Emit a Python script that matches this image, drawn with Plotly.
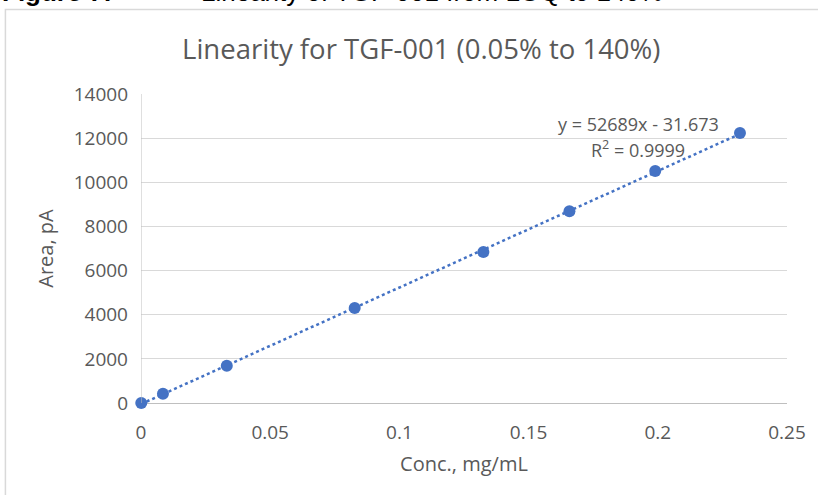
import numpy as np
import plotly.graph_objects as go

conc = [0.0001, 0.0085, 0.0332, 0.0827, 0.1325, 0.1658, 0.1990, 0.2318]
area = [5, 420, 1690, 4300, 6840, 8690, 10510, 12230]
x_ticks = [0, 0.05, 0.1, 0.15, 0.2, 0.25]
x_ticklabels = ["0", "0.05", "0.1", "0.15", "0.2", "0.25"]
y_ticks = [0, 2000, 4000, 6000, 8000, 10000, 12000, 14000]
y_ticklabels = ["0", "2000", "4000", "6000", "8000", "10000", "12000", "14000"]

title = "Linearity for TGF-001 (0.05% to 140%)"
eq_line1 = "y = 52689x - 31.673"
eq_line2 = "R<sup>2</sup> = 0.9999"

slope, intercept = np.polyfit(conc, area, 1)
tx = np.array([conc[0], conc[-1]])
ty = slope * tx + intercept

FONT = "Open Sans"
GRAY = "#595959"
BLUE = "#4472C4"

fig = go.Figure()
fig.add_trace(go.Scatter(x=tx, y=ty, mode="lines",
                         line=dict(color=BLUE, width=2.5, dash="dot"),
                         hoverinfo="skip", showlegend=False))
fig.add_trace(go.Scatter(x=conc, y=area, mode="markers",
                         marker=dict(color=BLUE, size=12),
                         showlegend=False, cliponaxis=False))

fig.update_layout(
    width=818, height=495,
    margin=dict(l=141, r=29, t=94, b=92),
    paper_bgcolor="white", plot_bgcolor="white",
    font=dict(family=FONT, color=GRAY, size=19),
    title=dict(text=title, x=0.515, xanchor="center", y=0.9, yanchor="middle",
               font=dict(family=FONT, size=27.5, color=GRAY)),
    xaxis=dict(range=[0, 0.25], tickvals=x_ticks, ticktext=x_ticklabels,
               showgrid=False, zeroline=False, showline=False,
               ticks="", ticklabelstandoff=16,
               tickfont=dict(size=19, color=GRAY),
               title=dict(text="Conc., mg/mL", standoff=12,
                          font=dict(size=20, color=GRAY))),
    yaxis=dict(range=[0, 14000], tickvals=y_ticks, ticktext=y_ticklabels,
               showgrid=True, gridcolor="#D9D9D9", gridwidth=1,
               zeroline=True, zerolinecolor="#BFBFBF", zerolinewidth=1,
               showline=False, ticks="", ticklabelstandoff=12,
               tickfont=dict(size=19, color=GRAY),
               title=dict(text="Area, pA", standoff=14,
                          font=dict(size=20, color=GRAY))),
)

# y-axis line at x=0
fig.add_shape(type="line", xref="x", yref="paper", x0=0, x1=0, y0=0, y1=1,
              line=dict(color="#BFBFBF", width=1))

# chart border (extends beyond visible page)
fig.add_shape(type="rect", xref="paper", yref="paper",
              x0=-136 / 648, x1=1.2, y0=-0.5, y1=(403 - 9.5) / 309,
              line=dict(color="#D9D9D9", width=1.5), fillcolor="rgba(0,0,0,0)",
              layer="below")

fig.add_annotation(text=eq_line1, xref="paper", yref="paper",
                   x=(640 - 141) / 648, y=(403 - 124) / 309,
                   showarrow=False, xanchor="center", yanchor="middle",
                   font=dict(size=18, color=GRAY))
fig.add_annotation(text=eq_line2, xref="paper", yref="paper",
                   x=(640 - 141) / 648, y=(403 - 149) / 309,
                   showarrow=False, xanchor="center", yanchor="middle",
                   font=dict(size=18, color=GRAY))

# cropped figure caption at top of page
fig.add_annotation(text="<b>Figure 7:</b>", xref="paper", yref="paper",
                   x=-141 / 648, y=(403 - 9) / 309, xanchor="left", yanchor="bottom",
                   showarrow=False, font=dict(family="Liberation Sans", size=26, color="black"))
fig.add_annotation(text="Linearity of TGF-001 from LOQ to 140%", xref="paper", yref="paper",
                   x=(199 - 141) / 648, y=(403 - 9) / 309, xanchor="left", yanchor="bottom",
                   showarrow=False, font=dict(family="Liberation Sans", size=26, color="black"))

fig.write_html("out.html")
